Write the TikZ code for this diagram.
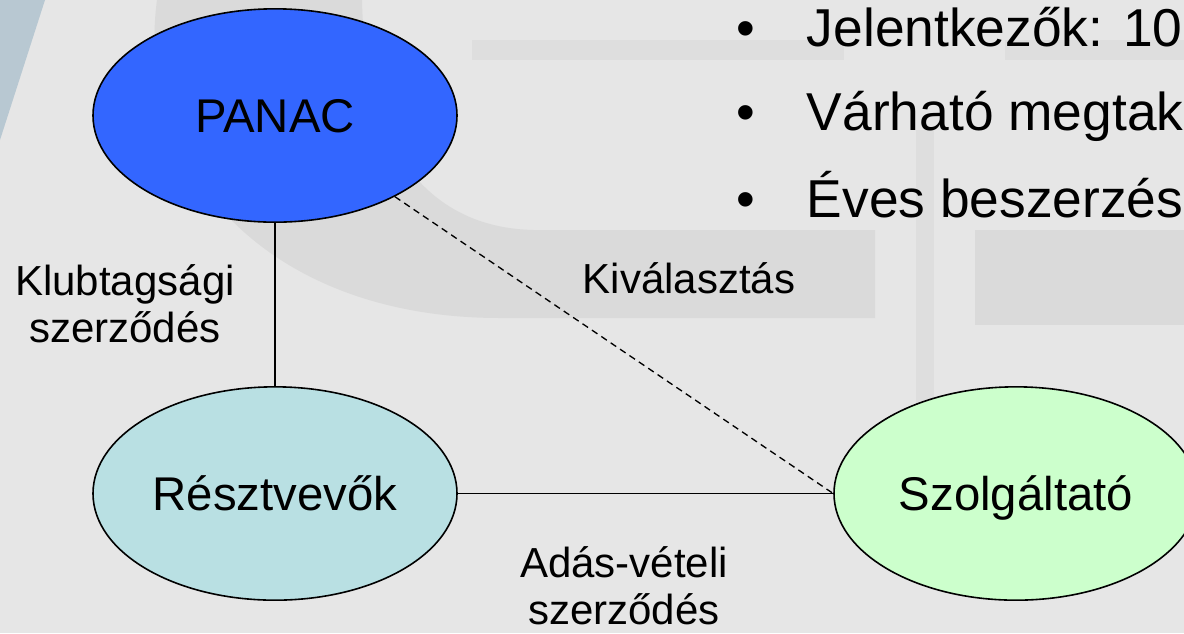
\documentclass[tikz,border=0pt]{standalone}
\usepackage{fontspec}
\setmainfont{Liberation Sans}
\usetikzlibrary{shapes.geometric}

\definecolor{slidegray}{RGB}{230,230,230}
\definecolor{markgray}{RGB}{218,218,218}
\definecolor{bargray}{RGB}{222,222,222}
\definecolor{stripblue}{RGB}{184,200,210}
\definecolor{panacblue}{RGB}{51,102,255}
\definecolor{partcyan}{RGB}{185,224,227}
\definecolor{servgreen}{RGB}{204,255,204}

\tikzset{
  party/.style={ellipse, draw, line width=1.2pt, minimum width=273pt, minimum height=160pt,
    inner sep=0pt, text height=25.5pt, text depth=0pt, font=\fontsize{35.5}{42}\selectfont},
  deal/.style={align=center, inner sep=0pt, font=\fontsize{31.5}{35.25}\selectfont},
  fact/.style={anchor=base west, inner sep=0pt, font=\fontsize{40}{48}\selectfont},
  link/.style={line width=1.3pt},
}

\begin{document}
\begin{tikzpicture}[x=0.75pt, y=-0.75pt]
    % slide background
    \useasboundingbox (0,0) rectangle (1184,633);
    \clip (0,0) rectangle (1184,633);
    \fill[slidegray] (0,0) rectangle (1184,633);
    \fill[stripblue] (0,0) -- (45,0) -- (0,140) -- cycle;
    \fill[markgray] (157,0) .. controls (135,160) and (260,318) .. (500,318) -- (875,318)
        -- (875,230) -- (534,230) .. controls (430,228) and (365,150) .. (362,0) -- cycle;
    \fill[bargray] (472,40) rectangle (844,60);
    \fill[bargray] (1005,40) rectangle (1184,60);
    \fill[markgray] (975,230) rectangle (1184,325);
    \fill[bargray] (916,130) rectangle (934,500);

    % parties
    \node[party, fill=panacblue] (panac) at (275,115.5) {PANAC};
    \node[party, fill=partcyan] (resztvevok) at (275,493.5) {Résztvevők};
    \node[party, fill=servgreen] (szolgaltato) at (1016,493.5) {Szolgáltató};

    \draw[link] (panac) -- (resztvevok);
    \draw[link] (resztvevok) -- (szolgaltato);
    \draw[line width=1pt, dash pattern=on 5pt off 3.5pt] (panac) -- (szolgaltato.west);

    % contracts (base = last line)
    \node[deal, anchor=base] (klub) at (125,342) {Klubtagsági\\szerződés};
    \node[deal, anchor=base] (kivalasztas) at (689,293) {Kiválasztás};
    \node[deal, anchor=base] (adasveteli) at (624,624) {Adás-vételi\\szerződés};

    % facts
    \node[fact] (jelentkezok) at (736,46) {\makebox[53pt][l]{•}Jelentkezők: 10};
    \node[fact] (varhato) at (736,130) {\makebox[53pt][l]{•}Várható megtak};
    \node[fact] (eves) at (736,217) {\makebox[53pt][l]{•}Éves beszerzés};
\end{tikzpicture}
\end{document}
